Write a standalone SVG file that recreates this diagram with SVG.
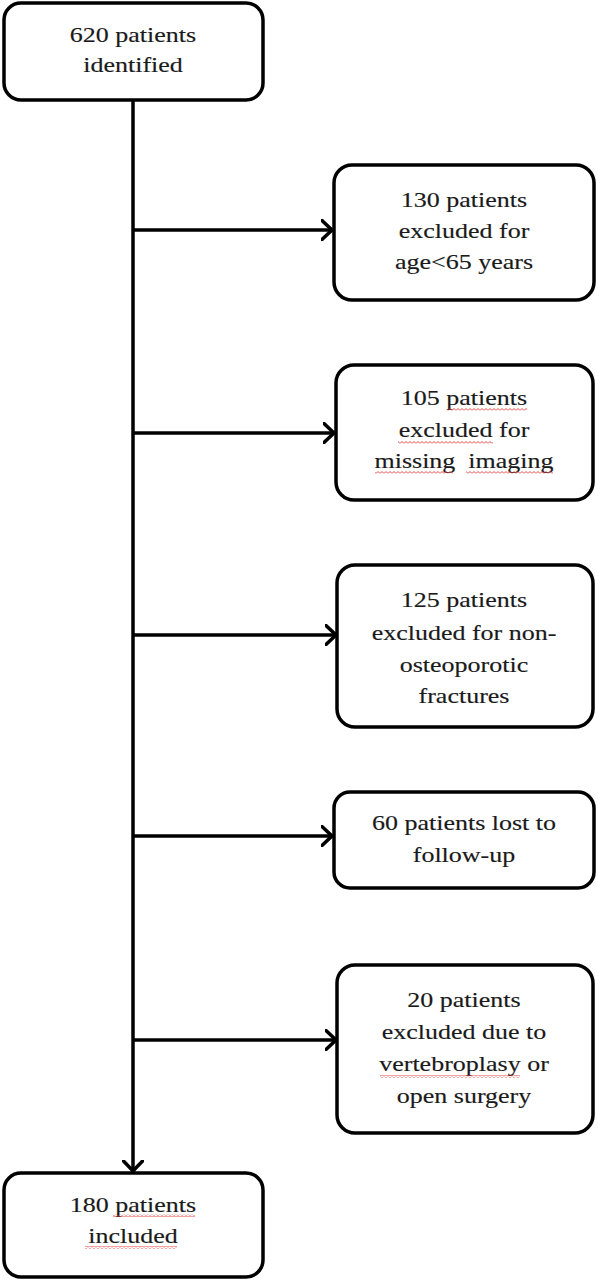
<svg xmlns="http://www.w3.org/2000/svg" width="598" height="1280" viewBox="0 0 598 1280">
<style>
.box{fill:#fff;stroke:#000;stroke-width:3.5}
.t{font-family:"Liberation Serif","Times New Roman",serif;font-size:20px;fill:#1a1a1a;stroke:#1a1a1a;stroke-width:0.15;text-anchor:middle}
.ln{stroke:#000;stroke-width:3.5;fill:none}
.sq{fill:url(#wave)}
</style>
<defs>
<marker id="arr" viewBox="0 0 12 22" refX="11" refY="11" markerWidth="12" markerHeight="22" markerUnits="userSpaceOnUse" orient="auto">
<path d="M1,1.5 L11,11 L1,20.5" fill="none" stroke="#000" stroke-width="3.5" stroke-linecap="round" stroke-linejoin="round"/>
</marker>
<pattern id="wave" patternUnits="userSpaceOnUse" width="4" height="3">
<path d="M0,2.5 L2,0.5 L4,2.5" fill="none" stroke="#e03030" stroke-width="0.9"/>
</pattern>
</defs>
<g id="connectors">
<line class="ln" x1="133" y1="100" x2="133" y2="1171" marker-end="url(#arr)"/>
<line class="ln" x1="133" y1="230" x2="332" y2="230" marker-end="url(#arr)"/>
<line class="ln" x1="133" y1="433" x2="334" y2="433" marker-end="url(#arr)"/>
<line class="ln" x1="133" y1="635" x2="336" y2="635" marker-end="url(#arr)"/>
<line class="ln" x1="133" y1="836" x2="332" y2="836" marker-end="url(#arr)"/>
<line class="ln" x1="133" y1="1040" x2="336" y2="1040" marker-end="url(#arr)"/>
</g>
<g id="n620">
<rect class="box" x="4" y="3" width="259" height="97" rx="17"/>
<text class="t" transform="translate(133,42) scale(1.3,1)">620 patients</text>
<text class="t" transform="translate(133,72) scale(1.3,1)">identified</text>
</g>
<g id="n130">
<rect class="box" x="334" y="165" width="260" height="135" rx="18"/>
<text class="t" transform="translate(464,207) scale(1.3,1)">130 patients</text>
<text class="t" transform="translate(464,238) scale(1.3,1)">excluded for</text>
<text class="t" transform="translate(464,269) scale(1.3,1)">age&lt;65 years</text>
</g>
<g id="n105">
<rect class="box" x="336" y="365" width="257" height="135" rx="18"/>
<text class="t" transform="translate(464,405) scale(1.3,1)">105 patients</text>
<text class="t" transform="translate(464,437) scale(1.3,1)">excluded for</text>
<text class="t" xml:space="preserve" transform="translate(464,468) scale(1.3,1)">missing  imaging</text>
<rect class="sq" x="447" y="408" width="80" height="3"/>
<rect class="sq" x="398" y="441" width="95" height="3"/>
<rect class="sq" x="375" y="471" width="78" height="3"/>
<rect class="sq" x="466" y="471" width="87" height="3"/>
</g>
<g id="n125">
<rect class="box" x="337" y="565" width="256" height="162" rx="18"/>
<text class="t" transform="translate(464,607) scale(1.3,1)">125 patients</text>
<text class="t" transform="translate(464,640) scale(1.3,1)">excluded for non-</text>
<text class="t" transform="translate(464,672) scale(1.3,1)">osteoporotic</text>
<text class="t" transform="translate(464,703) scale(1.3,1)">fractures</text>
</g>
<g id="n60">
<rect class="box" x="334" y="792" width="260" height="96" rx="16"/>
<text class="t" transform="translate(464,830) scale(1.3,1)">60 patients lost to</text>
<text class="t" transform="translate(464,862) scale(1.3,1)">follow-up</text>
</g>
<g id="n20">
<rect class="box" x="337" y="965" width="256" height="168" rx="18"/>
<text class="t" transform="translate(464,1007) scale(1.3,1)">20 patients</text>
<text class="t" transform="translate(464,1039) scale(1.3,1)">excluded due to</text>
<text class="t" transform="translate(464,1071) scale(1.3,1)">vertebroplasy or</text>
<text class="t" transform="translate(464,1103) scale(1.3,1)">open surgery</text>
<rect class="sq" x="380" y="1075" width="140" height="3"/>
</g>
<g id="n180">
<rect class="box" x="4" y="1173" width="259" height="104" rx="17"/>
<text class="t" transform="translate(133,1212) scale(1.3,1)">180 patients</text>
<text class="t" transform="translate(133,1243) scale(1.3,1)">included</text>
<rect class="sq" x="113" y="1214" width="82" height="3"/>
<rect class="sq" x="85" y="1246" width="92" height="3"/>
</g>
</svg>
